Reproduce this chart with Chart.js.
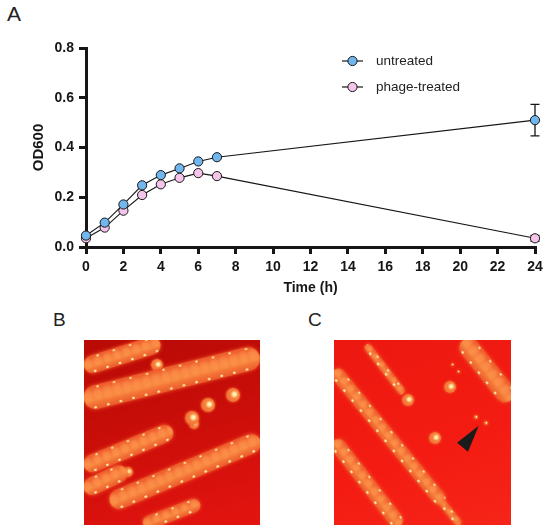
<!DOCTYPE html>
<html>
<head>
<meta charset="utf-8">
<script src="https://cdn.jsdelivr.net/npm/chart.js@4.4.1/dist/chart.umd.min.js"></script>
<style>
	body { margin: 0; background: #fff; width: 550px; height: 532px; overflow: hidden; position: relative; font-family: Arial, "Liberation Sans", sans-serif; }
	#plot { position: absolute; left: 0; top: 0; width: 550px; height: 300px; }
	.panel { position: absolute; line-height: 1; color: #222; }
	.photo { position: absolute; overflow: hidden; }
	.streak { position: absolute; transform-origin: 0 50%; box-shadow: 0 0 3px 1px rgba(240, 90, 40, 0.6); filter: blur(0.5px); }
	.blob { position: absolute; border-radius: 50%; box-shadow: 0 0 2px 1px rgba(240, 90, 40, 0.6); }
	.photo svg { position: absolute; left: 0; top: 0; }
</style>
</head>
<body>
<div class="panel" style="left:7px;top:3px;font-size:21px">A</div>
<div class="panel" style="left:53px;top:310px;font-size:19px">B</div>
<div class="panel" style="left:308px;top:310px;font-size:19px">C</div>
<div id="plot"><canvas id="chart"></canvas></div>
<div id="photoB" class="photo" style="left:84px;top:340px;width:176px;height:185px;background:linear-gradient(165deg,#b80a06 0%,#c70d08 40%,#e41410 100%)"></div>
<div id="photoC" class="photo" style="left:334px;top:340px;width:177px;height:185px;background:linear-gradient(160deg,#ec1810 0%,#f41c12 60%,#f62418 100%)">
	<svg width="177" height="185"><polygon points="144.7,85.7 123,102.7 134,111.7" fill="#1b1b1b"/></svg>
</div>
<script>
// Growth curve (OD600) of untreated vs phage-treated culture.
const hours = [0, 1, 2, 3, 4, 5, 6, 7, 24];
const untreated = [0.046, 0.098, 0.171, 0.248, 0.289, 0.316, 0.344, 0.361, 0.510];
const untreatedErr = [0, 0, 0, 0, 0, 0, 0, 0, 0.063];
const phageTreated = [0.035, 0.078, 0.146, 0.209, 0.252, 0.278, 0.297, 0.285, 0.035];
const phageTreatedErr = [0, 0, 0, 0, 0, 0, 0, 0, 0.012];
const seriesNames = ['untreated', 'phage-treated'];

const INK = '#161616';
const FONT = 'Arial, "Liberation Sans", sans-serif';

// Photo decoration (plate streaks), not data: [x1, y1, x2, y2, width] inside each photo box.
const streaksB = [
	[0, 27, 76, 3, 18], [0, 60, 176, 16, 24], [0, 127, 89, 90, 18],
	[0, 150, 43, 130, 18], [26, 163, 176, 100, 20], [59, 185, 116, 163, 14],
];
const blobsB = [[108, 78, 7], [124, 65, 7], [149, 55, 7], [73, 25, 6], [44, 132, 5], [106, 167, 5], [110, 84, 5]];
const streaksC = [
	[0, 30, 109, 163, 14], [0, 100, 66, 185, 15], [32, 5, 69, 53, 8],
	[129, 0, 177, 60, 20], [106, 160, 126, 185, 8],
];
const blobsC = [[116, 47, 6], [74, 60, 6], [101, 98, 6], [142, 77, 2], [152, 83, 2], [118, 24, 1.5], [124, 31, 1.5]];

const SPECKS =
	'radial-gradient(circle, #fff3b0 0 0.9px, transparent 1.6px) 3px 100% / 13px 4px repeat-x, ' +
	'radial-gradient(circle, #ffe7a0 0 0.8px, transparent 1.5px) 8px 0 / 17px 4px repeat-x, ';

function paintPhoto(id, streaks, blobs) {
	const box = document.getElementById(id);
	for (const [x1, y1, x2, y2, w] of streaks) {
		const s = document.createElement('div');
		s.className = 'streak';
		const len = Math.hypot(x2 - x1, y2 - y1);
		const ang = Math.atan2(y2 - y1, x2 - x1);
		s.style.left = x1 + 'px';
		s.style.top = (y1 - w / 2) + 'px';
		s.style.width = len + 'px';
		s.style.height = w + 'px';
		s.style.borderRadius = (w / 2) + 'px';
		s.style.background = SPECKS +
			'radial-gradient(circle at 50% 40%, rgba(255,160,80,0.5) 0 20%, transparent 50%) 0 0 / 10px 100%, ' +
			'linear-gradient(to bottom, #ee5a2a 0%, #f5733a 35%, #f7853f 60%, #ec582a 100%)';
		s.style.transform = `rotate(${ang}rad)`;
		box.insertBefore(s, box.firstChild);
	}
	for (const [x, y, r] of blobs) {
		const b = document.createElement('div');
		b.className = 'blob';
		b.style.left = (x - r) + 'px';
		b.style.top = (y - r) + 'px';
		b.style.width = b.style.height = (2 * r) + 'px';
		b.style.background = 'radial-gradient(circle at 60% 45%, #fff0b0 0 12%, #f7853f 35%, #ee5a2a 100%)';
		box.insertBefore(b, box.firstChild);
	}
}
paintPhoto('photoB', streaksB, blobsB);
paintPhoto('photoC', streaksC, blobsC);

const errorBars = {
	id: 'errorBars',
	beforeDatasetsDraw(chart) {
		const { ctx, scales: { x, y } } = chart;
		ctx.save();
		ctx.strokeStyle = INK;
		ctx.lineWidth = 1.3;
		chart.data.datasets.forEach((ds) => {
			ds.data.forEach((p, i) => {
				const e = ds.errors[i];
				if (!e) {
					return;
				}
				const px = x.getPixelForValue(p.x);
				const top = y.getPixelForValue(p.y + e);
				const bot = y.getPixelForValue(p.y - e);
				ctx.beginPath();
				ctx.moveTo(px, top);
				ctx.lineTo(px, bot);
				ctx.moveTo(px - 4.5, top);
				ctx.lineTo(px + 4.5, top);
				ctx.moveTo(px - 4.5, bot);
				ctx.lineTo(px + 4.5, bot);
				ctx.stroke();
			});
		});
		ctx.restore();
	},
};

// Legend drawn GraphPad style: short line through the marker.
const lineLegend = {
	id: 'lineLegend',
	afterDraw(chart) {
		const { ctx } = chart;
		ctx.save();
		chart.data.datasets.forEach((ds, i) => {
			const cy = 61 + i * 26;
			ctx.strokeStyle = INK;
			ctx.lineWidth = 1.2;
			ctx.beginPath();
			ctx.moveTo(342, cy);
			ctx.lineTo(363, cy);
			ctx.stroke();
			ctx.beginPath();
			ctx.arc(352.5, cy, 4.6, 0, Math.PI * 2);
			ctx.fillStyle = ds.pointBackgroundColor;
			ctx.fill();
			ctx.lineWidth = 1;
			ctx.stroke();
			ctx.fillStyle = '#222';
			ctx.font = `13.5px ${FONT}`;
			ctx.textBaseline = 'middle';
			ctx.fillText(ds.label, 376, cy);
		});
		ctx.restore();
	},
};

function makeSeries(label, values, errors, fill) {
	return {
		label,
		data: hours.map((h, i) => ({ x: h, y: values[i] })),
		errors,
		clip: false,
		borderColor: INK,
		borderWidth: 1.1,
		pointRadius: 4.6,
		pointBorderWidth: 1,
		pointBorderColor: INK,
		pointBackgroundColor: fill,
		tension: 0,
	};
}

const axisGrid = { drawOnChartArea: false, color: INK, tickLength: 7, lineWidth: 3 };

new Chart(document.getElementById('chart'), {
	type: 'line',
	data: {
		datasets: [
			makeSeries(seriesNames[0], untreated, untreatedErr, '#72b6ee'),
			makeSeries(seriesNames[1], phageTreated, phageTreatedErr, '#f5c4ea'),
		],
	},
	options: {
		responsive: true,
		maintainAspectRatio: false,
		animation: false,
		layout: { padding: { top: 48, right: 15, bottom: 0, left: 0 } },
		plugins: { legend: { display: false }, tooltip: { enabled: false } },
		scales: {
			x: {
				type: 'linear',
				min: 0,
				max: 24,
				border: { color: INK, width: 3 },
				grid: axisGrid,
				ticks: { stepSize: 2, color: INK, padding: 5, font: { size: 14, weight: 'bold', family: FONT } },
				title: { display: true, text: 'Time (h)', color: INK, padding: { top: 0, bottom: 3 }, font: { size: 14, weight: 'bold', family: FONT } },
				afterFit: (s) => { s.height = 53; },
			},
			y: {
				min: 0,
				max: 0.8,
				border: { color: INK, width: 3 },
				grid: axisGrid,
				ticks: { stepSize: 0.2, color: INK, padding: 5, font: { size: 14, weight: 'bold', family: FONT }, callback: (v) => v.toFixed(1) },
				title: { display: true, text: 'OD600', color: INK, padding: { top: 30, bottom: 0 }, font: { size: 15, weight: 'bold', family: FONT } },
				afterFit: (s) => { s.width = 86; },
			},
		},
	},
	plugins: [errorBars, lineLegend],
});
</script>
</body>
</html>
